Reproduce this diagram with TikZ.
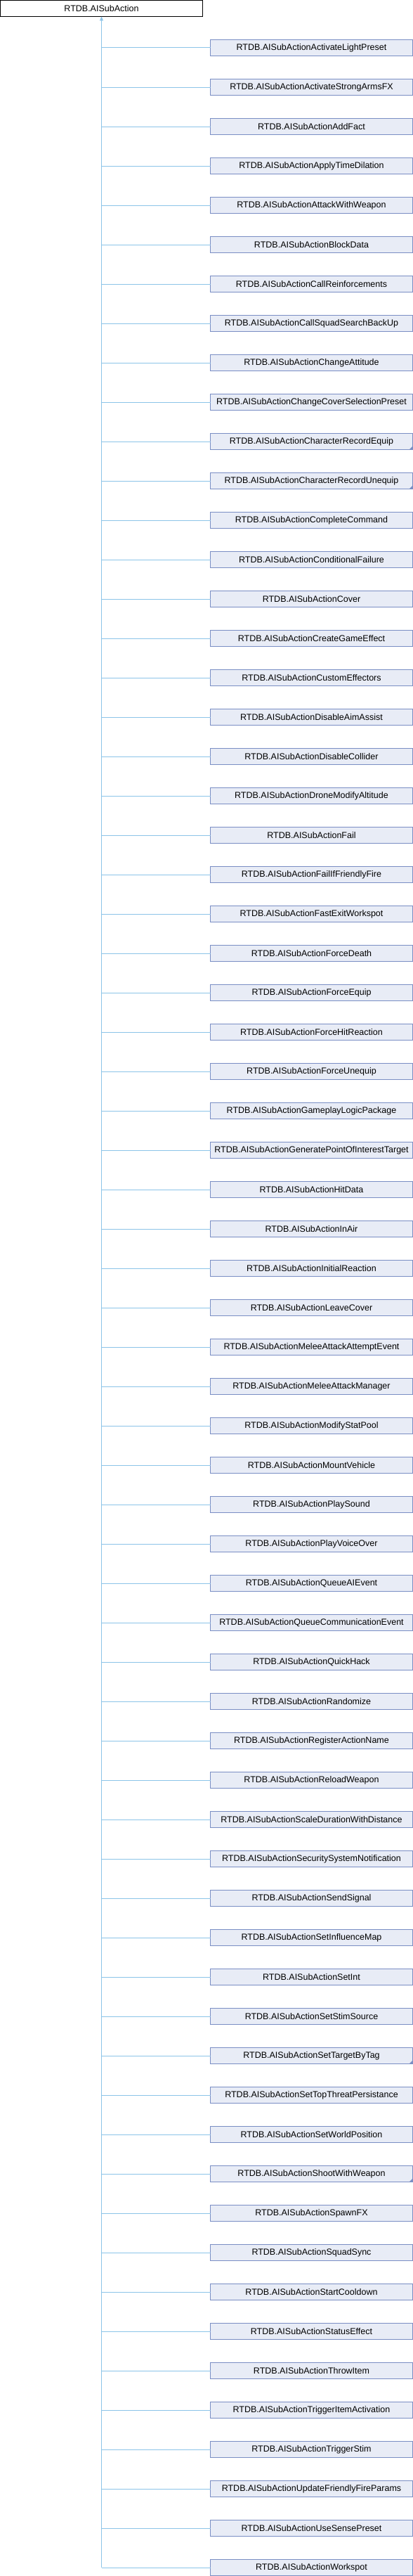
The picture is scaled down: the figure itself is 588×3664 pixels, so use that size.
\documentclass[tikz,border=0pt]{standalone}
\usepackage{fontspec}
\setmainfont{Liberation Sans}
\usetikzlibrary{arrows.meta}
\definecolor{edgec}{RGB}{140,196,232}
\definecolor{boxfill}{RGB}{232,236,246}
\definecolor{boxdraw}{RGB}{122,142,196}
\begin{document}
\begin{tikzpicture}[x=1pt,y=-1pt,
  basebox/.style={rectangle, anchor=north west, minimum width=288pt, minimum height=23pt,
    inner sep=0pt, outer sep=0pt, line width=1pt, font=\fontsize{12.5}{14}\selectfont, text=black},
  rootbox/.style={basebox, draw=black, fill=white},
  childbox/.style={basebox, draw=boxdraw, fill=boxfill},
  edge/.style={draw=edgec, line width=1pt},
  ]
\useasboundingbox (0,0) rectangle (588,3664);
\node[rootbox] (root) at (0.5,0.5) {RTDB.AISubAction};
\foreach \n [count=\i from 0] in {ActivateLightPreset, ActivateStrongArmsFX, AddFact, ApplyTimeDilation, AttackWithWeapon, BlockData, CallReinforcements, CallSquadSearchBackUp, ChangeAttitude, ChangeCoverSelectionPreset, CharacterRecordEquip, CharacterRecordUnequip, CompleteCommand, ConditionalFailure, Cover, CreateGameEffect, CustomEffectors, DisableAimAssist, DisableCollider, DroneModifyAltitude, Fail, FailIfFriendlyFire, FastExitWorkspot, ForceDeath, ForceEquip, ForceHitReaction, ForceUnequip, GameplayLogicPackage, GeneratePointOfInterestTarget, HitData, InAir, InitialReaction, LeaveCover, MeleeAttackAttemptEvent, MeleeAttackManager, ModifyStatPool, MountVehicle, PlaySound, PlayVoiceOver, QueueAIEvent, QueueCommunicationEvent, QuickHack, Randomize, RegisterActionName, ReloadWeapon, ScaleDurationWithDistance, SecuritySystemNotification, SendSignal, SetInfluenceMap, SetInt, SetStimSource, SetTargetByTag, SetTopThreatPersistance, SetWorldPosition, ShootWithWeapon, SpawnFX, SquadSync, StartCooldown, StatusEffect, ThrowItem, TriggerItemActivation, TriggerStim, UpdateFriendlyFireParams, UseSensePreset, Workspot} {
  \node[childbox] (c\i) at (299.5, {56.5+56*\i}) {RTDB.AISubAction\n};
  \draw[edge] (c\i.west) -- (c\i.west -| root.south);
}
\draw[edge, -{Triangle[width=5pt,length=6pt]}] (c64.west -| root.south) -- (root.south);
\foreach \i in {10,11,51,54} {
  \fill[boxdraw] ([xshift=-0.5pt, yshift=0.5pt]c\i.south east) -- ++(-4,0) -- ++(4,-4) -- cycle;
}
\end{tikzpicture}
\end{document}
